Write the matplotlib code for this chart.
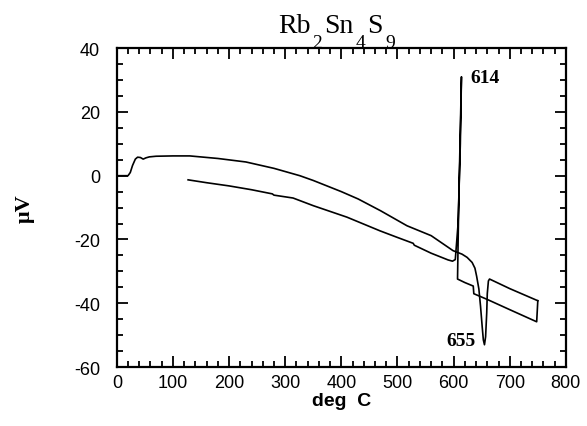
import matplotlib
matplotlib.use('Agg')
import matplotlib.pyplot as plt
from matplotlib.ticker import MultipleLocator

# heating curve (deg C, uV)
heat_T = [0, 20, 24, 28, 33, 37, 42, 47, 52, 58, 70, 100, 130, 180, 230, 280, 326,
          350, 400, 430, 470, 517, 560, 599, 615, 624, 633, 638, 641, 645, 648,
          651, 653, 655, 657, 659, 660, 662, 664, 700, 750]
heat_V = [0, 0, 1.0, 3.2, 5.2, 5.8, 5.7, 5.2, 5.6, 5.9, 6.1, 6.2, 6.2, 5.4, 4.3, 2.3, 0.0,
          -1.5, -5.0, -7.3, -11.0, -15.7, -18.8, -23.5, -24.6, -25.6, -27.2, -29.0, -31.5, -35.5, -41.0,
          -47.5, -51.5, -53.0, -50.5, -43.0, -37.0, -33.0, -32.4, -35.4, -39.2]

# cooling curve
cool_T = [750, 748, 700, 660, 636, 635, 620, 607, 609, 612, 614, 612, 608, 603, 598,
          590, 560, 530, 528, 499, 469, 410, 350, 314, 280, 277, 240, 200, 160, 127]
cool_V = [-39.2, -45.8, -42.0, -38.8, -37.0, -34.6, -33.5, -32.4, -10.0, 15.0, 31.0, 10.0, -15.0, -26.3, -26.8,
          -26.4, -24.3, -21.8, -21.2, -19.3, -17.3, -13.0, -9.4, -7.0, -6.1, -5.7, -4.4, -3.2, -2.2, -1.3]

# title pieces: (text, is_subscript)
title_parts = [('Rb', False), ('2', True), ('Sn', False), ('4', True), ('S', False), ('9', True)]

plt.rcParams['axes.unicode_minus'] = False

fig = plt.figure(figsize=(5.87, 4.27), dpi=100)
ax = fig.add_axes([0.199, 0.138, 0.765, 0.747])

ax.plot(heat_T, heat_V, color='black', lw=1.2)
ax.plot(cool_T, cool_V, color='black', lw=1.2)

ax.set_xlim(0, 800)
ax.set_ylim(-60, 40)
ax.xaxis.set_major_locator(MultipleLocator(100))
ax.xaxis.set_minor_locator(MultipleLocator(20))
ax.yaxis.set_major_locator(MultipleLocator(20))
ax.yaxis.set_minor_locator(MultipleLocator(5))
ax.tick_params(which='both', direction='in', top=True, right=True, width=1.3)
ax.tick_params(which='major', length=8)
ax.tick_params(which='minor', length=4)
ax.tick_params(axis='x', pad=5)
ax.tick_params(axis='y', pad=12)
for lab in ax.get_xticklabels() + ax.get_yticklabels():
    lab.set_family('Liberation Sans')
    lab.set_fontsize(13)
for s in ax.spines.values():
    s.set_linewidth(1.6)

ax.set_xlabel('deg  C', family='Liberation Sans', fontweight='bold', fontsize=14, labelpad=1)
ax.set_ylabel('\u03bcV', family='Liberation Serif', fontweight='bold', fontsize=16, labelpad=28)

# title with large, low subscripts, laid out piece by piece
fig.canvas.draw()
renderer = fig.canvas.get_renderer()
x = 278 / 587
for txt, sub in title_parts:
    if sub:
        t = fig.text(x, 1 - 48 / 427, txt, family='Liberation Serif', fontsize=14, va='baseline')
    else:
        t = fig.text(x, 1 - 33 / 427, txt, family='Liberation Serif', fontsize=20, va='baseline')
    bb = t.get_window_extent(renderer)
    x = (bb.x1 + 2) / 587

ax.text(630, 30.8, '614', family='Liberation Serif', fontweight='bold', fontsize=14, va='center')
ax.text(639, -51.8, '655', family='Liberation Serif', fontweight='bold', fontsize=14, va='center', ha='right')

fig.savefig('out.png', dpi=100)
